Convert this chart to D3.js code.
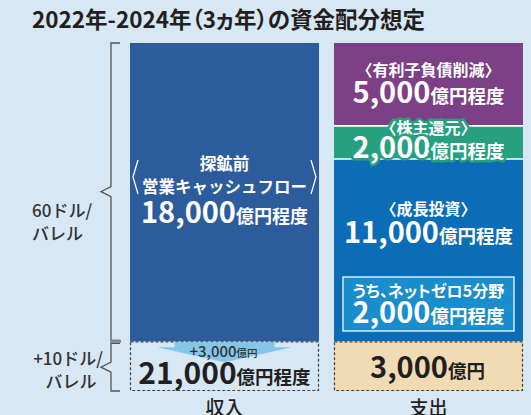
<!DOCTYPE html>
<html><head><meta charset="utf-8">
<script src="https://cdn.jsdelivr.net/npm/d3@7"></script>
<style>
html,body{margin:0;padding:0;background:#d7e7f4;}
svg{display:block;font-family:"Noto Sans CJK JP","Noto Sans",sans-serif;}
</style></head><body>
<svg id="chart" width="531" height="415"></svg>
<script>
// Columns and the stacked amounts (億円), listed top to bottom
const columns = ["収入", "支出"];
const incomeItems = ["探鉱前営業キャッシュフロー", "油価上振れ分"];
const incomeValues = [18000, 3000];
const spendItems = ["有利子負債削減", "株主還元", "成長投資", "上振れ配分"];
const spendValues = [5000, 2000, 11000, 3000];
const netZeroValue = 2000;
const upsideValue = 3000;
const oilLabels = [["60ドル/", "バレル"], ["+10ドル/", "バレル"]];
const title = "2022年-2024年（3ヵ年）の資金配分想定";

const svg = d3.select("#chart");
const fmt = d3.format(",");

const x = d3.scaleBand().domain(columns).range([130, 523]).paddingInner(0.0735);
const y = d3.scaleLinear().domain([0, 21000]).range([391, 43]);
const bw = x.bandwidth();

// cumulative stacking from the bottom
function stack(items, values) {
  let acc = 0;
  const out = [];
  for (let i = values.length - 1; i >= 0; i--) {
    out.unshift({ name: items[i], value: values[i], y0: acc, y1: acc + values[i] });
    acc += values[i];
  }
  return out;
}
const income = stack(incomeItems, incomeValues);
const spend = stack(spendItems, spendValues);

// title
svg.append("text").attr("x", 32).attr("y", 28)
  .attr("font-size", 22.5).attr("font-weight", 700).attr("fill", "#231f20")
  .style("font-feature-settings", '"palt"')
  .text(title);

const ink = "#231f20";

// helper: value + unit text
function valueText(g, cx, cy, numStr, unit, numSize, unitSize, fill, halo) {
  const t = g.append("text").attr("x", cx).attr("y", cy)
    .attr("text-anchor", "middle").attr("font-weight", 700).attr("fill", fill);
  if (halo) t.attr("stroke", halo).attr("stroke-width", 5).attr("stroke-linejoin", "round").attr("paint-order", "stroke");
  t.append("tspan").attr("font-size", numSize).text(numStr);
  t.append("tspan").attr("font-size", unitSize).text(unit);
  return t;
}
function labelText(g, cx, cy, s, size, fill, halo) {
  const t = g.append("text").attr("x", cx).attr("y", cy)
    .attr("text-anchor", "middle").attr("font-weight", 700)
    .attr("font-size", size).attr("fill", fill).text(s);
  if (halo) t.attr("stroke", halo).attr("stroke-width", 5).attr("stroke-linejoin", "round").attr("paint-order", "stroke");
  return t;
}

// ---- income column ----
const xi = x(columns[0]);
const ci = xi + bw / 2;
const gI = svg.append("g");
// operating cash flow
gI.append("rect").attr("x", xi).attr("width", bw)
  .attr("y", y(income[0].y1)).attr("height", y(income[0].y0) - y(income[0].y1))
  .attr("fill", "#2c5c9c");
// upside (dashed outline)
gI.append("rect").attr("x", xi + 0.5).attr("width", bw - 1)
  .attr("y", y(income[1].y1) + 0.5).attr("height", y(income[1].y0) - y(income[1].y1) - 1)
  .attr("fill", "none").attr("stroke", "#444").attr("stroke-width", 1.2).attr("stroke-dasharray", "3,2");

// down arrow for the upside
const aTop = y(income[1].y1) + 1;
gI.append("path")
  .attr("d", `M${ci - 50},${aTop} L${ci + 50},${aTop} L${ci + 50},${aTop + 5} L${ci + 67},${aTop + 5} L${ci},${aTop + 20} L${ci - 67},${aTop + 5} L${ci - 50},${aTop + 5} Z`)
  .attr("fill", "#84c6ea");

// labels in the cash-flow block
labelText(gI, ci, 170, "探鉱前", 16.5, "#fff");
labelText(gI, ci, 193, "営業キャッシュフロー", 16.5, "#fff");
valueText(gI, ci, 223, fmt(incomeValues[0]), "億円程度", 29, 18, "#fff");
// thin angle brackets
gI.append("path").attr("d", `M${xi + 8},160 L${xi + 3},177 L${xi + 8},194`)
  .attr("fill", "none").attr("stroke", "#fff").attr("stroke-width", 1.3);
gI.append("path").attr("d", `M${xi + bw - 8},160 L${xi + bw - 3},177 L${xi + bw - 8},194`)
  .attr("fill", "none").attr("stroke", "#fff").attr("stroke-width", 1.3);

// upside labels
valueText(gI, ci - 1, 357, "+" + fmt(upsideValue), "億円", 15, 10.5, "#333").attr("font-weight", 500);
valueText(gI, ci, 384, fmt(incomeValues.reduce((a, b) => a + b, 0)), "億円程度", 30, 18.5, ink);

// ---- spending column ----
const xs = x(columns[1]);
const cs = xs + bw / 2;
const gS = svg.append("g");
const spendFill = ["#7d3f86", "#27a07f", "#0b6db5", "#f1dbb4"];
gS.selectAll("rect.seg").data(spend).join("rect").attr("class", "seg")
  .attr("x", xs).attr("width", bw)
  .attr("y", d => y(d.y1)).attr("height", d => y(d.y0) - y(d.y1))
  .attr("fill", (d, i) => spendFill[i]);
// dashed outline on the upside allocation
gS.append("rect").attr("x", xs + 0.5).attr("width", bw - 1)
  .attr("y", y(spend[3].y1) + 0.5).attr("height", y(spend[3].y0) - y(spend[3].y1) - 1)
  .attr("fill", "none").attr("stroke", "#444").attr("stroke-width", 1.2).attr("stroke-dasharray", "3,2");
// white separators around the shareholder return block
[spend[1].y1, spend[1].y0].forEach(v => {
  gS.append("line").attr("x1", xs).attr("x2", xs + bw)
    .attr("y1", y(v)).attr("y2", y(v)).attr("stroke", "#fff").attr("stroke-width", 1.6);
});

// debt reduction
labelText(gS, cs, 76, "〈有利子負債削減〉", 16, "#fff");
valueText(gS, cs, 103, fmt(spendValues[0]), "億円程度", 29, 18.5, "#fff");
// shareholder return (haloed)
labelText(gS, cs, 134, "〈株主還元〉", 16, "#fff", "#27a07f");
valueText(gS, cs, 158, fmt(spendValues[1]), "億円程度", 29, 18.5, "#fff", "#27a07f");
// growth investment
labelText(gS, cs, 215, "〈成長投資〉", 16, "#fff");
valueText(gS, cs, 243, fmt(spendValues[2]), "億円程度", 29, 18.5, "#fff");
// net-zero sub box
gS.append("rect").attr("x", xs + 9).attr("width", bw - 18)
  .attr("y", 277).attr("height", 54)
  .attr("fill", "#1a8dcc").attr("stroke", "#e6f3fb").attr("stroke-width", 1.4);
labelText(gS, cs, 297, "うち、ネットゼロ5分野", 16, "#fff")
  .style("font-feature-settings", '"palt"');
valueText(gS, cs, 323, fmt(netZeroValue), "億円程度", 29, 18.5, "#fff");
// upside allocation
valueText(gS, cs - 1, 378, fmt(spendValues[3]), "億円", 29, 18.5, ink);

// column labels
svg.selectAll("text.col").data(columns).join("text").attr("class", "col")
  .attr("x", d => x(d) + bw / 2).attr("y", 415)
  .attr("text-anchor", "middle").attr("font-size", 19).attr("font-weight", 500)
  .attr("fill", ink).text(d => d);

// ---- oil price braces ----
const gB = svg.append("g").attr("fill", "none").attr("stroke", "#555").attr("stroke-width", 1.3);
function brace(top, bottom) {
  const mid = (top + bottom) / 2;
  gB.append("path").attr("d",
    `M120,${top} L111,${top} L111,${mid - 5} L101,${mid} L111,${mid + 5} L111,${bottom} L120,${bottom}`);
}
brace(y(21000), y(3000) - 1);
brace(y(3000) + 2, y(0));
svg.append("line").attr("x1", 110).attr("x2", 121).attr("y1", y(3000)).attr("y2", y(3000))
  .attr("stroke", "#888").attr("stroke-width", 3);

const oilText = svg.append("g").attr("font-size", 17).attr("font-weight", 500).attr("fill", "#333");
oilText.append("text").attr("x", 32).attr("y", 217).text(oilLabels[0][0]);
oilText.append("text").attr("x", 32).attr("y", 240).text(oilLabels[0][1]);
oilText.append("text").attr("x", 68).attr("y", 365).attr("text-anchor", "middle").text(oilLabels[1][0]);
oilText.append("text").attr("x", 71).attr("y", 388).attr("text-anchor", "middle").text(oilLabels[1][1]);
</script>
</body></html>
